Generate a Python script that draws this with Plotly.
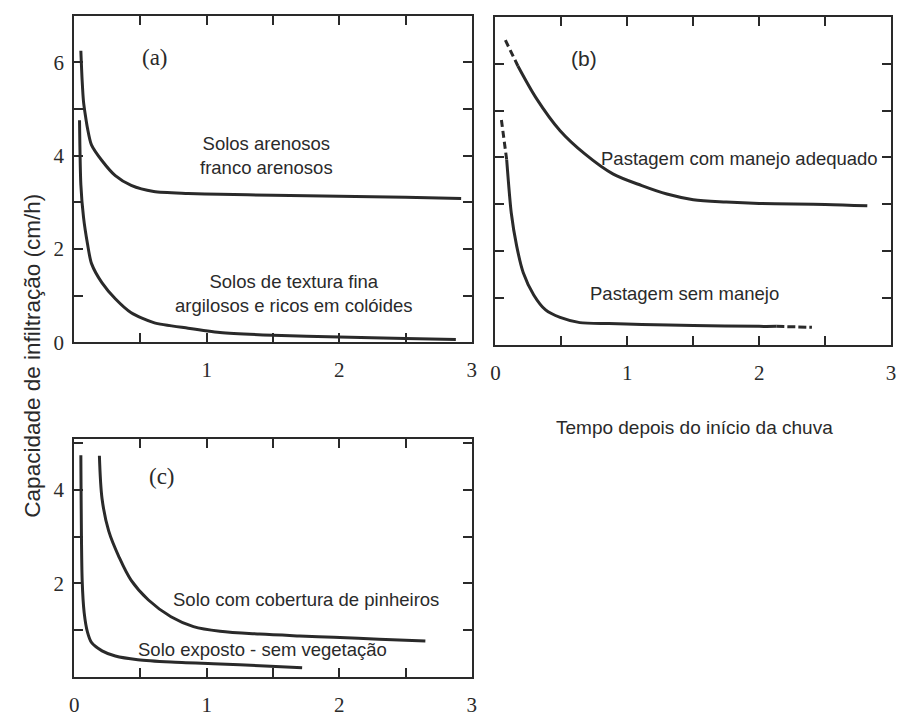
import plotly.graph_objects as go

# ---- data ----
# Panel (a)
a_sand_x = [0.05, 0.06, 0.07, 0.085, 0.1, 0.13, 0.21, 0.31, 0.43, 0.6, 0.86, 1.1, 1.5, 2.0, 2.5, 2.92]
a_sand_y = [6.25, 5.6, 5.16, 4.85, 4.59, 4.23, 3.89, 3.57, 3.36, 3.23, 3.19, 3.17, 3.15, 3.13, 3.11, 3.08]
a_fine_x = [0.04, 0.05, 0.07, 0.1, 0.13, 0.21, 0.31, 0.43, 0.6, 0.86, 1.1, 1.5, 2.0, 2.5, 2.88]
a_fine_y = [4.76, 3.38, 2.68, 2.11, 1.69, 1.27, 0.93, 0.63, 0.42, 0.3, 0.21, 0.15, 0.11, 0.08, 0.06]

# Panel (b)
b_good_dash_x = [0.075, 0.17]
b_good_dash_y = [6.5, 5.95]
b_good_x = [0.17, 0.31, 0.49, 0.68, 0.89, 1.11, 1.3, 1.5, 1.75, 2.0, 2.5, 2.82]
b_good_y = [5.95, 5.26, 4.57, 4.07, 3.65, 3.4, 3.22, 3.1, 3.05, 3.02, 3.0, 2.97]
b_poor_dash1_x = [0.045, 0.085]
b_poor_dash1_y = [4.8, 3.95]
b_poor_x = [0.085, 0.12, 0.16, 0.21, 0.29, 0.38, 0.49, 0.64, 0.86, 1.11, 1.5, 2.0, 2.13]
b_poor_y = [3.95, 2.81, 2.12, 1.55, 1.07, 0.75, 0.59, 0.48, 0.46, 0.44, 0.42, 0.4, 0.4]
b_poor_dash2_x = [2.13, 2.4]
b_poor_dash2_y = [0.4, 0.38]

# Panel (c)
c_bare_x = [0.05, 0.06, 0.075, 0.1, 0.13, 0.21, 0.31, 0.48, 0.73, 1.1, 1.4, 1.72]
c_bare_y = [4.74, 2.06, 1.37, 0.95, 0.73, 0.55, 0.44, 0.36, 0.31, 0.27, 0.23, 0.19]
c_pine_x = [0.19, 0.21, 0.26, 0.34, 0.43, 0.56, 0.73, 0.9, 1.1, 1.4, 1.7, 1.96, 2.3, 2.65]
c_pine_y = [4.73, 3.81, 3.12, 2.55, 2.06, 1.64, 1.28, 1.07, 0.97, 0.91, 0.87, 0.84, 0.8, 0.76]

x_tickvals = [0, 0.5, 1, 1.5, 2, 2.5, 3]
xa_text = ["", "", "1", "", "2", "", "3"]
xb_text = ["0", "", "1", "", "2", "", "3"]
xc_text = ["0", "", "1", "", "2", "", "3"]
yab_tickvals = [0, 1, 2, 3, 4, 5, 6, 7]
ya_text = ["0", "", "2", "", "4", "", "6", ""]
yb_text = [""] * 8
yc_tickvals = [0, 1, 2, 3, 4, 5]
yc_text = ["", "", "2", "", "4", ""]

ink = "#2a2a2a"
fig = go.Figure()

def line(x, y, xa, ya, dash="solid", smoothing=0.7):
    fig.add_trace(go.Scatter(x=x, y=y, mode="lines", xaxis=xa, yaxis=ya,
                             line=dict(color=ink, width=3, dash=dash, shape="spline",
                                       smoothing=smoothing),
                             showlegend=False, hoverinfo="skip"))

line(a_sand_x, a_sand_y, "x", "y")
line(a_fine_x, a_fine_y, "x", "y")
line(b_good_dash_x, b_good_dash_y, "x2", "y2", dash="7px,4px")
line(b_good_x, b_good_y, "x2", "y2", smoothing=0.9)
line(b_poor_dash1_x, b_poor_dash1_y, "x2", "y2", dash="7px,4px")
line(b_poor_x, b_poor_y, "x2", "y2")
line(b_poor_dash2_x, b_poor_dash2_y, "x2", "y2", dash="8px,3px")
line(c_bare_x, c_bare_y, "x3", "y3")
line(c_pine_x, c_pine_y, "x3", "y3", smoothing=0.9)

W, H = 900, 718
def dx(a, b):
    return [a / W, b / W]
def dy(top, bottom):
    return [1 - bottom / H, 1 - top / H]
def px(x):
    return x / W
def py(y):
    return 1 - y / H

tickfont = dict(family="Liberation Serif", size=21, color=ink)
common_x = dict(range=[0, 3], tickvals=x_tickvals, ticks="inside", ticklen=9, tickwidth=2,
                tickcolor=ink, showline=True, linewidth=2, linecolor=ink, mirror="allticks",
                showgrid=False, zeroline=False, tickfont=tickfont, fixedrange=True,
                ticklabelstandoff=8)
common_y = dict(ticks="inside", ticklen=9, tickwidth=2, tickcolor=ink, showline=True,
                linewidth=2, linecolor=ink, mirror="allticks", showgrid=False, zeroline=False,
                tickfont=tickfont, fixedrange=True, ticklabelstandoff=4)

fig.update_layout(
    width=W, height=H, margin=dict(l=0, r=0, t=0, b=0),
    paper_bgcolor="white", plot_bgcolor="white",
    xaxis=dict(domain=dx(70, 472), ticktext=xa_text, anchor="y", **common_x),
    yaxis=dict(domain=dy(16, 348), range=[0, 7], tickvals=yab_tickvals, ticktext=ya_text,
               anchor="x", **common_y),
    xaxis2=dict(domain=dx(496, 896), ticktext=xb_text, anchor="y2", **common_x),
    yaxis2=dict(domain=dy(17, 351), range=[0, 7], tickvals=yab_tickvals, ticktext=yb_text,
                anchor="x2", **common_y),
    xaxis3=dict(domain=dx(70, 472), ticktext=xc_text, anchor="y3", **common_x),
    yaxis3=dict(domain=dy(446, 688), range=[0, 5.1], tickvals=yc_tickvals, ticktext=yc_text,
                anchor="x3", **common_y),
)

sans = "Liberation Sans"
serif = "Liberation Serif"
def note(text, x, y, xref, yref, size=18.5, family=sans):
    fig.add_annotation(text=text, x=x, y=y, xref=xref, yref=yref, showarrow=False,
                       xanchor="center", yanchor="middle",
                       font=dict(family=family, size=size, color=ink), align="center")

note("(a)", 0.61, 6.1, "x", "y", size=23, family=serif)
note("Solos arenosos<br>franco arenosos", 1.45, 4.0, "x", "y")
note("Solos de textura fina<br>argilosos e ricos em colóides", 1.66, 1.04, "x", "y")
note("(b)", 0.675, 6.12, "x2", "y2", size=21)
note("Pastagem com manejo adequado", 1.85, 3.98, "x2", "y2")
note("Pastagem sem manejo", 1.43, 1.09, "x2", "y2")
note("(c)", 0.66, 4.29, "x3", "y3", size=23, family=serif)
note("Solo com cobertura de pinheiros", 1.75, 1.64, "x3", "y3")
note("Solo exposto - sem vegetação", 1.42, 0.57, "x3", "y3")

fig.add_annotation(text="Capacidade de infiltração (cm/h)", x=px(28), y=py(362),
                   xref="paper", yref="paper", showarrow=False, textangle=-90,
                   xanchor="center", yanchor="middle",
                   font=dict(family=sans, size=22.5, color=ink))
fig.add_annotation(text="Tempo depois do início da chuva", x=px(697), y=py(435),
                   xref="paper", yref="paper", showarrow=False,
                   xanchor="center", yanchor="middle",
                   font=dict(family=sans, size=19, color=ink))

# drop the browser's default 8px page margin so the 900x718 figure fills the window exactly
fig.write_html("out.html", config={"displayModeBar": False},
               post_script="document.body.style.margin='0';document.body.style.overflow='hidden';")
